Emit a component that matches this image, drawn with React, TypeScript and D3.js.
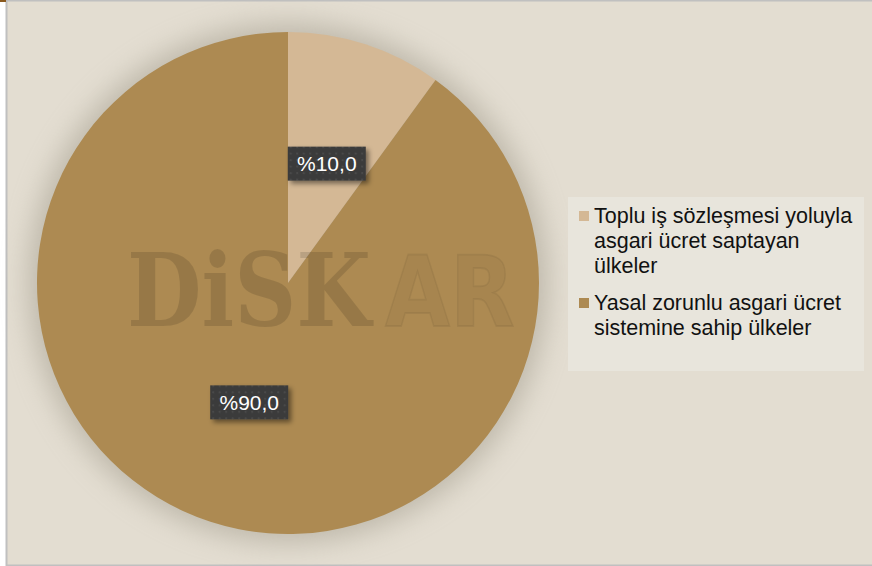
import React from "react";
import * as d3 from "d3";

const categories = [
  "Toplu iş sözleşmesi yoluyla asgari ücret saptayan ülkeler",
  "Yasal zorunlu asgari ücret sistemine sahip ülkeler",
];
const values = [10.0, 90.0];
const legendLines = [
  ["Toplu iş sözleşmesi yoluyla", "asgari ücret saptayan", "ülkeler"],
  ["Yasal zorunlu asgari ücret", "sistemine sahip ülkeler"],
];
const colors = ["#D4B895", "#AD8A52"];

const W = 872;
const H = 566;
const cx = 288;
const cy = 283;
const R = 251;

export default function App() {
  const pie = d3.pie<number>().sort(null).value((d) => d)(values);
  const arc = d3.arc<d3.PieArcDatum<number>>().innerRadius(0).outerRadius(R);
  const labelArc = d3
    .arc<d3.PieArcDatum<number>>()
    .innerRadius(R * 0.5)
    .outerRadius(R * 0.5);
  const fmt = (v: number) => "%" + v.toFixed(1).replace(".", ",");
  const font = "'Liberation Sans', Arial, sans-serif";

  let ly = 215;
  const legendItems = legendLines.map((lines, i) => {
    const y0 = ly;
    ly += lines.length * 25 + 12;
    return { lines, y0, i };
  });

  return (
    <svg
      width={W}
      height={H}
      style={{ position: "absolute", left: 0, top: 0 }}
      xmlns="http://www.w3.org/2000/svg"
    >
      <defs>
        <filter id="glow" x="-30%" y="-30%" width="160%" height="160%">
          <feGaussianBlur stdDeviation="14" />
        </filter>
        <filter id="lblShadow" x="-20%" y="-30%" width="150%" height="180%">
          <feDropShadow dx="3" dy="3" stdDeviation="2.5" floodColor="#000" floodOpacity="0.45" />
        </filter>
        <pattern id="dots" width="6.5" height="6.5" patternUnits="userSpaceOnUse">
          <rect width="6.5" height="6.5" fill="#3A3A3A" />
          <rect x="2" y="2" width="2" height="2" fill="#4A4A4A" />
        </pattern>
      </defs>
      <rect x={0} y={0} width={W} height={H} fill="#FFFFFF" />
      <rect x={7} y={1} width={W - 7} height={H - 2} fill="#E3DDD1" />
      <line x1={6.5} y1={0} x2={6.5} y2={H} stroke="#C0C0C0" strokeWidth={2} />
      <line x1={6} y1={0.5} x2={W} y2={0.5} stroke="#C0C0C0" strokeWidth={2} />
      <line x1={6} y1={H - 0.5} x2={W} y2={H - 0.5} stroke="#C0C0C0" strokeWidth={2} />
      <rect x={0} y={0} width={6} height={2} fill="#8B5A1E" />

      <circle cx={cx} cy={cy} r={R + 8} fill="#9E9888" opacity={0.55} filter="url(#glow)" />

      <g transform={`translate(${cx},${cy})`}>
        {pie.map((p, i) => (
          <path key={i} d={arc(p) || ""} fill={colors[i]} />
        ))}
      </g>

      <g transform="translate(127,326) scale(1,1.17)">
        <text
          x={0}
          y={0}
          fontSize={86}
          fontWeight="bold"
          fontFamily="'DejaVu Serif', serif"
          fill="rgba(0,0,0,0.125)"
        >
          DiSK
        </text>
        <text
          x={258}
          y={0}
          fontSize={84}
          fontWeight="bold"
          fontFamily="'DejaVu Sans', sans-serif"
          fill="rgba(0,0,0,0.03)"
          stroke="rgba(0,0,0,0.06)"
          strokeWidth={1.5}
        >
          AR
        </text>
      </g>

      {pie.map((p, i) => {
        const [lx, lyy] = labelArc.centroid(p);
        const bw = 78;
        const bh = 34;
        return (
          <g key={"l" + i} transform={`translate(${cx + lx},${cy + lyy})`}>
            <rect
              x={-bw / 2}
              y={-bh / 2}
              width={bw}
              height={bh}
              fill="url(#dots)"
              filter="url(#lblShadow)"
            />
            <text
              x={0}
              y={7.5}
              textAnchor="middle"
              fontFamily={font}
              fontSize={21}
              fill="#FFFFFF"
            >
              {fmt(values[i])}
            </text>
          </g>
        );
      })}

      <rect x={568} y={197} width={296} height={174} fill="#E8E5DC" />
      {legendItems.map(({ lines, y0, i }) => (
        <g key={"lg" + i}>
          <rect x={579} y={y0 - 4} width={10} height={10} fill={colors[i]} />
          {lines.map((t, j) => (
            <text
              key={j}
              x={594}
              y={y0 + 7.5 + j * 25}
              fontFamily={font}
              fontSize={21.5}
              fill="#111111"
            >
              {t}
            </text>
          ))}
        </g>
      ))}
    </svg>
  );
}
